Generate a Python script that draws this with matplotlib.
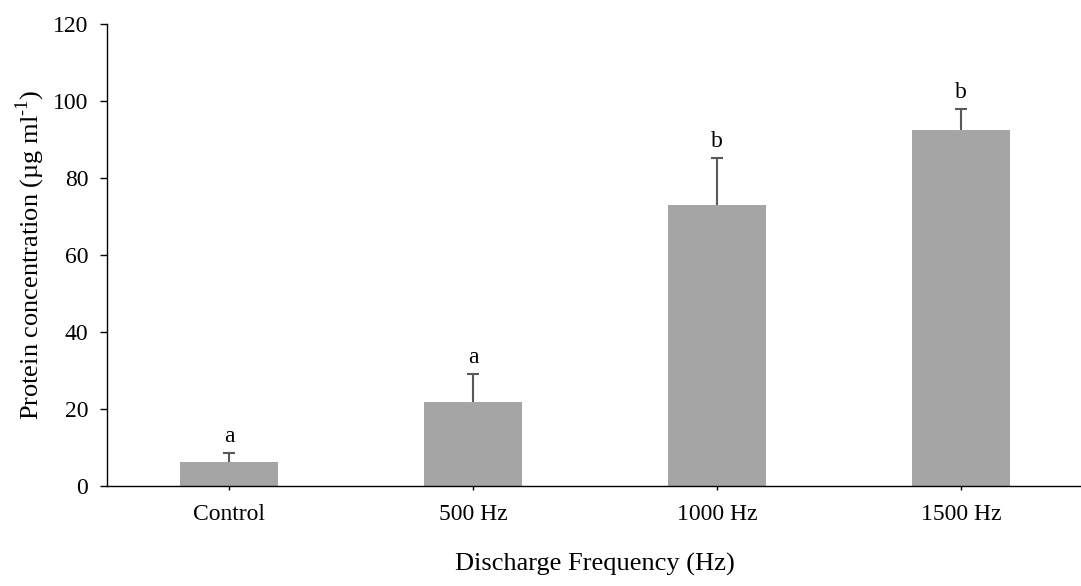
import numpy as np
import matplotlib
matplotlib.use('Agg')
import matplotlib.pyplot as plt

plt.rcParams['font.family'] = ['Liberation Serif', 'DejaVu Serif']
plt.rcParams['mathtext.fontset'] = 'custom'
plt.rcParams['mathtext.rm'] = 'Liberation Serif'

groups = ['Control', '500 Hz', '1000 Hz', '1500 Hz']
protein = [6.2, 21.8, 73.0, 92.6]
err = [2.4, 7.2, 12.2, 5.3]
letters = ['a', 'a', 'b', 'b']

fig = plt.figure(figsize=(10.81, 5.86), dpi=100)
ax = fig.add_axes([0.099, 0.1706, 0.903, 0.7884])

x = np.arange(len(groups))
ax.bar(x, protein, width=0.4, color='#a5a5a5', zorder=2)
eb = ax.errorbar(x, protein, yerr=[np.zeros(len(err)), err], fmt='none',
                 ecolor='#595959', elinewidth=1.5, capsize=4.5, capthick=1.5, zorder=1)
eb[1][0].set_visible(False)  # no cap at the bar top
for xi, p, e, l in zip(x, protein, err, letters):
    ax.text(xi, p + e + 1.6, l, ha='center', va='bottom', fontsize=17)

ax.set_xlim(-0.5, 3.5)
ax.set_ylim(0, 120)
ax.set_yticks(np.arange(0, 121, 20))
ax.set_xticks(x)
ax.set_xticklabels(groups)
ax.tick_params(axis='y', direction='out', length=5, width=1, labelsize=17, pad=8.5)
ax.tick_params(axis='x', direction='out', length=3, width=1, labelsize=17, pad=10)
for s in ['top', 'right']:
    ax.spines[s].set_visible(False)
ax.spines['left'].set_linewidth(1)
ax.spines['bottom'].set_linewidth(1)

ax.set_ylabel(r'Protein concentration (µg ml$^{\text{-1}}$)', fontsize=19, labelpad=4)
ax.set_xlabel('Discharge Frequency (Hz)', fontsize=19, labelpad=20)

fig.savefig('out.png', dpi=100)
